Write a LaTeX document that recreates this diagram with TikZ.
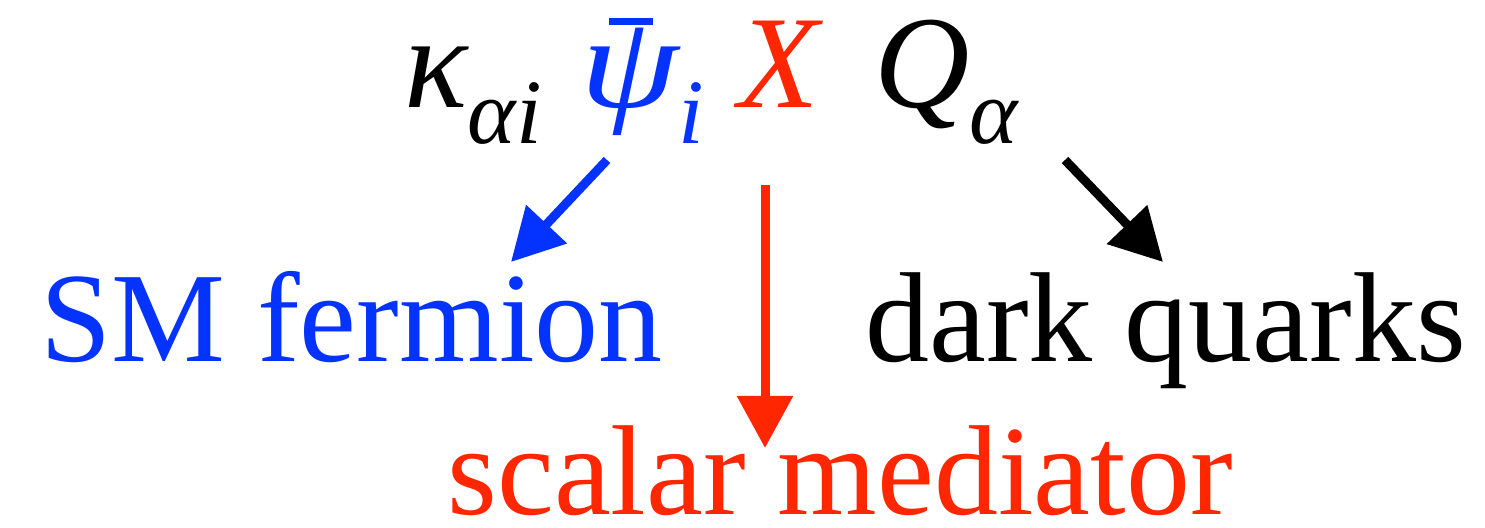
\documentclass[tikz,border=0pt]{standalone}
\usepackage{fontspec}
\setmainfont{Liberation Serif}
\usetikzlibrary{arrows.meta}
\definecolor{smblue}{RGB}{4,51,255}
\definecolor{medred}{RGB}{255,38,0}
\newcommand{\lowsub}[1]{\raisebox{-0.27em}{\fontsize{46}{46}\selectfont #1}}
\newcommand{\barpsi}{\makebox[0pt][l]{\hspace{0.22em}\raisebox{0.63em}{\rule{0.33em}{0.05em}}}\scalebox{1.2}[1]{ψ}}
\begin{document}
\begin{tikzpicture}[
        x=0.5pt, y=-0.5pt,
        every node/.style={inner sep=0pt, anchor=base west},
        topn/.style={font=\fontsize{66}{66}\selectfont\itshape},
        lown/.style={font=\fontsize{64}{64}\selectfont},
        bluen/.style={text=smblue},
        redn/.style={text=medred},
        blackn/.style={text=black},
        arr/.style={line width=4.5pt, -{Triangle[length=26pt,width=27pt]}},
    ]
    \useasboundingbox (0,0) rectangle (1485,528);
    % coupling
    \node[topn, blackn] (kap) at (404,108) {κ\lowsub{αi}};
    \node[topn, bluen] (psib) at (580,108) {\barpsi\lowsub{i}};
    \node[topn, redn] (xf) at (738,108) {X};
    \node[topn, blackn] (qa) at (874,108) {Q\lowsub{α}};
    % what they are
    \node[lown, bluen] (sm) at (40,362) {SM fermion};
    \node[lown, blackn] (dark) at (865,362) {dark quarks};
    \node[lown, redn] (med) at (447,515) {scalar mediator};
    \draw[arr, smblue] ([shift={(27,52)}]psib.base west) -- ([shift={(471,-100)}]sm.base west);
    \draw[arr, medred] ([shift={(27,77)}]xf.base west) -- ([shift={(318,-67)}]med.base west);
    \draw[arr, black] ([shift={(191,52)}]qa.base west) -- ([shift={(298,-100)}]dark.base west);
\end{tikzpicture}
\end{document}
